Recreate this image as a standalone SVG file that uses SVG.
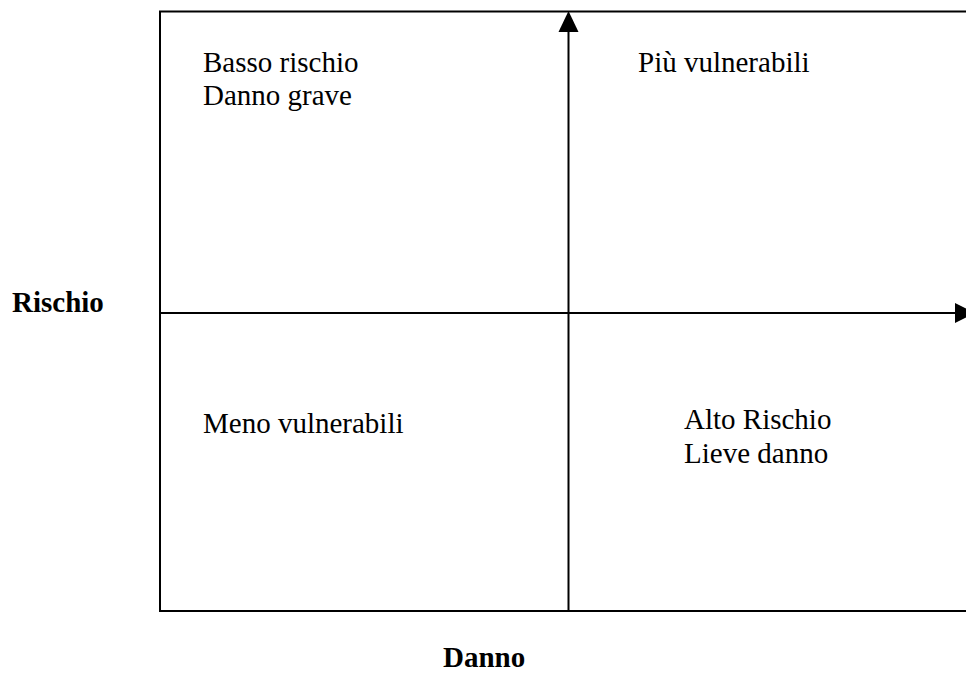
<svg xmlns="http://www.w3.org/2000/svg" width="966" height="675" viewBox="0 0 966 675">
<style>
text{font-family:"Liberation Serif","Times New Roman",serif;font-size:29px;fill:#000}
.b{font-weight:bold}
.ln{stroke:#000;stroke-width:2;fill:none}
.ah{fill:#000}
</style>
<rect width="966" height="675" fill="#fff"/>
<g id="frame">
<path class="ln" d="M970 11.5 H160 V611 H970"/>
</g>
<g id="connectors">
<line class="ln" x1="568.5" y1="611" x2="568.5" y2="30"/>
<polygon class="ah" points="568.5,11 558.5,32 578.5,32"/>
<line class="ln" x1="160" y1="313" x2="957" y2="313"/>
<polygon class="ah" points="975,313 955,303 955,323"/>
</g>
<g id="q1"><text x="203" y="72">Basso rischio</text><text x="203" y="105">Danno grave</text></g>
<g id="q2"><text x="638" y="72">Più vulnerabili</text></g>
<g id="q3"><text x="203" y="433">Meno vulnerabili</text></g>
<g id="q4"><text x="684" y="429">Alto Rischio</text><text x="684" y="463">Lieve danno</text></g>
<g id="ylabel"><text class="b" x="12" y="312">Rischio</text></g>
<g id="xlabel"><text class="b" x="443" y="667">Danno</text></g>
</svg>
